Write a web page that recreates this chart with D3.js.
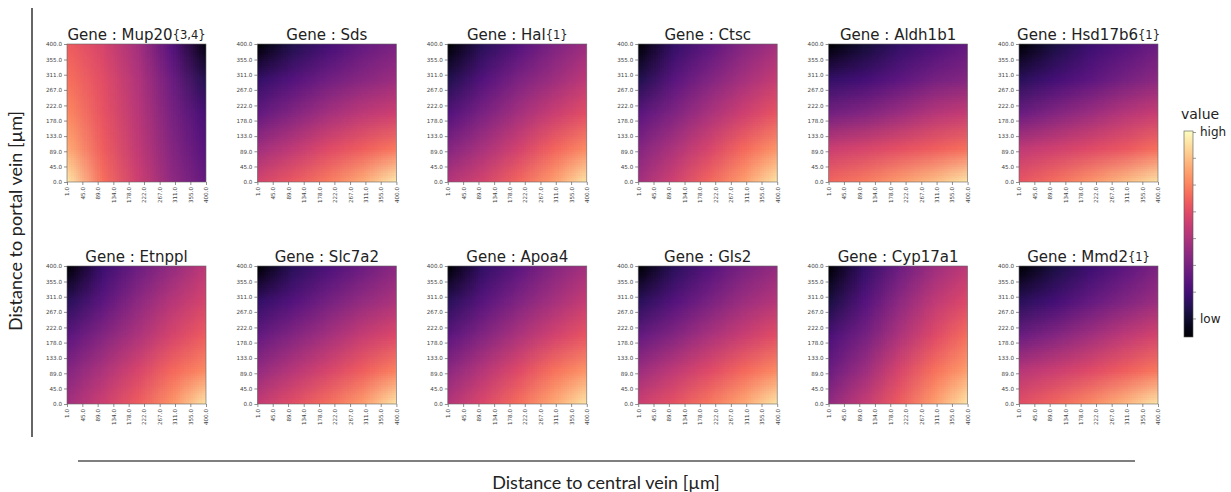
<!DOCTYPE html>
<html>
<head>
<meta charset="utf-8">
<script src="https://cdn.jsdelivr.net/npm/d3@7"></script>
<style>
  html, body { margin: 0; padding: 0; background: #ffffff; }
  svg { display: block; }
</style>
</head>
<body>
<svg id="chart" width="1231" height="492"></svg>
<script>
// ---------------- data ----------------
const genes = ["Mup20", "Sds", "Hal", "Ctsc", "Aldh1b1", "Hsd17b6",
               "Etnppl", "Slc7a2", "Apoa4", "Gls2", "Cyp17a1", "Mmd2"];
const geneNotes = ["{3,4}", "", "{1}", "", "", "{1}", "", "", "", "", "", "{1}"];
const xTickValues = [1, 45, 89, 134, 178, 222, 267, 311, 355, 400];
const yTickValues = [0, 45, 89, 133, 178, 222, 267, 311, 355, 400];
// sample grid: columns at central-vein distance, rows at portal-vein distance (top -> bottom)
const gridX = [1, 100.75, 200.5, 300.25, 400];
const gridY = [400, 300, 200, 100, 0];
// relative expression value (0 = low, 1 = high) read at grid points
const mup20 = [[0.66,0.58,0.46,0.26,0.02],[0.70,0.61,0.49,0.32,0.14],[0.75,0.63,0.51,0.35,0.22],[0.82,0.66,0.53,0.38,0.26],[0.95,0.70,0.56,0.41,0.30]];
const sds = [[0.00,0.14,0.22,0.30,0.36],[0.18,0.26,0.33,0.39,0.44],[0.30,0.38,0.46,0.52,0.56],[0.45,0.52,0.60,0.66,0.72],[0.58,0.65,0.73,0.83,0.97]];
const hal = [[0.00,0.16,0.26,0.36,0.44],[0.14,0.26,0.36,0.44,0.52],[0.26,0.36,0.46,0.55,0.62],[0.38,0.47,0.57,0.67,0.76],[0.50,0.58,0.68,0.80,0.96]];
const ctsc = [[0.00,0.18,0.28,0.38,0.46],[0.14,0.27,0.37,0.46,0.54],[0.28,0.37,0.47,0.56,0.64],[0.38,0.48,0.58,0.68,0.78],[0.46,0.57,0.68,0.80,0.96]];
const aldh1b1 = [[0.00,0.10,0.18,0.24,0.30],[0.18,0.22,0.28,0.34,0.38],[0.34,0.38,0.44,0.50,0.54],[0.55,0.58,0.62,0.66,0.70],[0.68,0.73,0.80,0.87,0.96]];
const hsd17b6 = [[0.00,0.12,0.20,0.26,0.32],[0.16,0.22,0.28,0.34,0.40],[0.32,0.38,0.44,0.50,0.55],[0.52,0.56,0.60,0.64,0.70],[0.64,0.70,0.78,0.86,0.95]];
const etnppl = [[0.00,0.20,0.32,0.42,0.52],[0.16,0.28,0.40,0.50,0.58],[0.28,0.38,0.48,0.58,0.66],[0.38,0.48,0.58,0.68,0.76],[0.46,0.56,0.66,0.78,0.96]];
const slc7a2 = [[0.00,0.16,0.24,0.32,0.40],[0.18,0.26,0.34,0.42,0.48],[0.30,0.38,0.46,0.54,0.60],[0.42,0.50,0.58,0.66,0.74],[0.54,0.62,0.70,0.80,0.96]];
const apoa4 = [[0.00,0.18,0.28,0.38,0.46],[0.16,0.27,0.37,0.46,0.54],[0.28,0.38,0.48,0.57,0.64],[0.40,0.50,0.60,0.70,0.78],[0.50,0.60,0.70,0.82,0.96]];
const gls2 = [[0.00,0.16,0.26,0.35,0.42],[0.16,0.26,0.35,0.44,0.50],[0.30,0.38,0.47,0.55,0.62],[0.44,0.52,0.60,0.68,0.76],[0.56,0.63,0.72,0.82,0.96]];
const cyp17a1 = [[0.00,0.18,0.32,0.44,0.52],[0.12,0.26,0.40,0.52,0.60],[0.24,0.34,0.48,0.60,0.70],[0.32,0.44,0.58,0.70,0.80],[0.42,0.54,0.66,0.80,0.96]];
const mmd2 = [[0.00,0.12,0.20,0.28,0.36],[0.16,0.22,0.30,0.37,0.44],[0.32,0.38,0.45,0.52,0.58],[0.50,0.55,0.60,0.66,0.72],[0.62,0.68,0.76,0.85,0.96]];
const geneGrids = [mup20, sds, hal, ctsc, aldh1b1, hsd17b6, etnppl, slc7a2, apoa4, gls2, cyp17a1, mmd2];
const colorbarTicks = [0.09, 0.22, 0.35, 0.48, 0.61, 0.74, 0.87, 0.995];
const colorbarLabels = {0.09: "low", 0.995: "high"};

// ---------------- layout ----------------
const svg = d3.select("#chart");
const color = d3.scaleSequential(d3.interpolateMagma).domain([0, 1]);
const panelW = 139, panelH = 138;
const colLeft0 = 67, colStep = 190.4;
const rowTops = [44, 266];
const tickFont = "DejaVu Sans, sans-serif";

const defs = svg.append("defs");

genes.forEach((g, gi) => {
  const col = gi % 6, row = Math.floor(gi / 6);
  const x0 = colLeft0 + col * colStep, y0 = rowTops[row];
  const x = d3.scaleLinear().domain([1, 400]).range([0, panelW]);
  const y = d3.scaleLinear().domain([0, 400]).range([panelH, 0]);
  const grid = geneGrids[gi];

  const gPanel = svg.append("g").attr("transform", `translate(${x0},${y0})`);

  // small image of sampled values, smoothed by the browser when scaled up
  const cv = document.createElement("canvas");
  cv.width = gridX.length; cv.height = gridY.length;
  const ctx = cv.getContext("2d");
  grid.forEach((rowVals, r) => rowVals.forEach((v, c) => {
    ctx.fillStyle = color(v);
    ctx.fillRect(c, r, 1, 1);
  }));
  const cellW = x(gridX[1]) - x(gridX[0]);
  const cellH = y(gridY[1]) - y(gridY[0]);
  const clipId = "clip" + gi;
  defs.append("clipPath").attr("id", clipId)
    .append("rect").attr("x", 0).attr("y", 0).attr("width", panelW).attr("height", panelH);
  gPanel.append("g").attr("clip-path", `url(#${clipId})`)
    .append("image")
    .attr("href", cv.toDataURL())
    .attr("x", x(gridX[0]) - cellW / 2)
    .attr("y", y(gridY[0]) - cellH / 2)
    .attr("width", cellW * gridX.length)
    .attr("height", cellH * gridY.length)
    .attr("preserveAspectRatio", "none")
    .style("image-rendering", "auto");

  gPanel.append("rect").attr("width", panelW).attr("height", panelH)
    .attr("fill", "none").attr("stroke", "#666").attr("stroke-width", 0.6);

  // axes
  const xa = gPanel.append("g").attr("transform", `translate(0,${panelH})`)
    .call(d3.axisBottom(x).tickValues(xTickValues).tickFormat(d3.format(".1f")).tickSize(3).tickSizeOuter(0));
  xa.select(".domain").remove();
  xa.selectAll("line").attr("stroke", "#444").attr("stroke-width", 0.6);
  xa.selectAll("text")
    .attr("transform", "rotate(-90)")
    .attr("x", -5).attr("y", 0).attr("dy", "0.35em")
    .attr("text-anchor", "end")
    .attr("fill", "#444")
    .style("font-family", tickFont).style("font-size", "5.6px");

  const ya = gPanel.append("g")
    .call(d3.axisLeft(y).tickValues(yTickValues).tickFormat(d3.format(".1f")).tickSize(3).tickSizeOuter(0).tickPadding(2));
  ya.select(".domain").remove();
  ya.selectAll("line").attr("stroke", "#444").attr("stroke-width", 0.6);
  ya.selectAll("text").attr("fill", "#444")
    .style("font-family", tickFont).style("font-size", "5.6px");

  // title
  const t = gPanel.append("text")
    .attr("x", panelW / 2).attr("y", -4)
    .attr("text-anchor", "middle")
    .attr("fill", "#222")
    .style("font-family", tickFont).style("font-size", "15px");
  t.append("tspan").text("Gene : " + g);
  if (geneNotes[gi]) t.append("tspan").attr("dy", -1).style("font-size", "11.5px").text(geneNotes[gi]);
});

// ---------------- colorbar ----------------
const cb = { x: 1184, y: 131, w: 9, h: 206 };
const grad = defs.append("linearGradient").attr("id", "cbgrad")
  .attr("x1", 0).attr("y1", 1).attr("x2", 0).attr("y2", 0);
d3.range(0, 1.0001, 0.05).forEach(tv => {
  grad.append("stop").attr("offset", tv).attr("stop-color", color(tv));
});
svg.append("rect").attr("x", cb.x).attr("y", cb.y).attr("width", cb.w).attr("height", cb.h)
  .attr("fill", "url(#cbgrad)").attr("stroke", "#555").attr("stroke-width", 0.6);
const cbScale = d3.scaleLinear().domain([0, 1]).range([cb.y + cb.h, cb.y]);
const cbAxis = svg.append("g").attr("transform", `translate(${cb.x + cb.w},0)`)
  .call(d3.axisRight(cbScale).tickValues(colorbarTicks).tickSize(3).tickPadding(4)
    .tickFormat(d => colorbarLabels[d] || ""));
cbAxis.select(".domain").remove();
cbAxis.selectAll("line").attr("stroke", "#555").attr("stroke-width", 0.6);
cbAxis.selectAll("text").attr("fill", "#222")
  .style("font-family", tickFont).style("font-size", "12px");
svg.append("text").attr("x", 1200).attr("y", 119).attr("text-anchor", "middle")
  .attr("fill", "#222").style("font-family", tickFont).style("font-size", "14px").text("value");

// ---------------- frame lines and outer titles ----------------
svg.append("line").attr("x1", 32).attr("x2", 32).attr("y1", 8).attr("y2", 437)
  .attr("stroke", "#333").attr("stroke-width", 1.5);
svg.append("line").attr("x1", 78).attr("x2", 1135).attr("y1", 461).attr("y2", 461)
  .attr("stroke", "#555").attr("stroke-width", 1.5);
svg.append("text")
  .attr("transform", "translate(22,221) rotate(-90)")
  .attr("text-anchor", "middle").attr("fill", "#222")
  .style("font-family", "Lato, 'Open Sans', sans-serif").style("font-size", "18px")
  .text("Distance to portal vein [µm]");
svg.append("text")
  .attr("x", 606).attr("y", 489)
  .attr("text-anchor", "middle").attr("fill", "#222")
  .style("font-family", "Lato, 'Open Sans', sans-serif").style("font-size", "18px")
  .text("Distance to central vein [µm]");
</script>
</body>
</html>
